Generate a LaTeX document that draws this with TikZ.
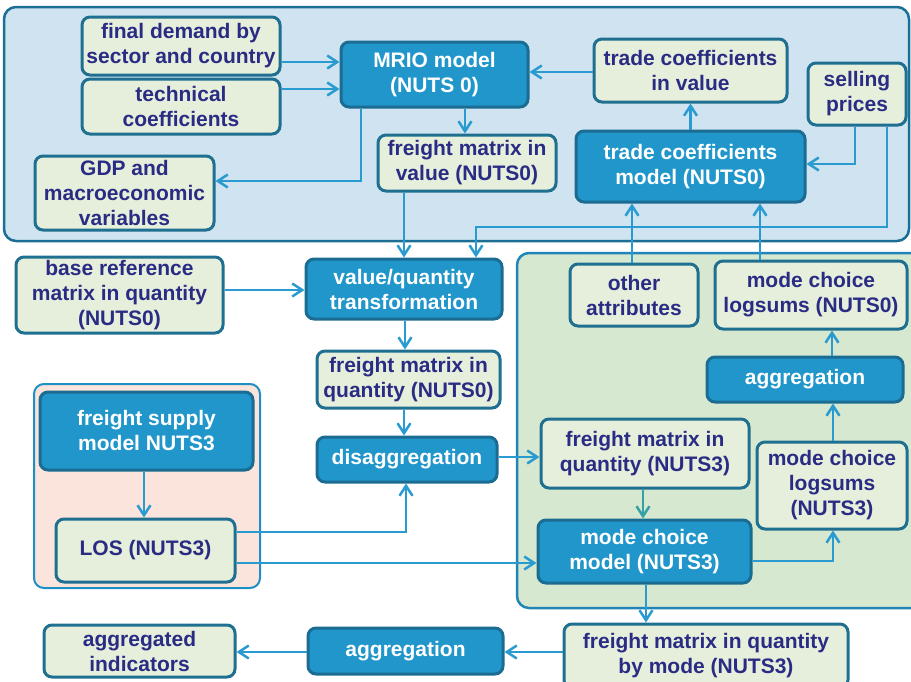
\documentclass[tikz,border=0pt]{standalone}
\usepackage{fontspec}
\setmainfont{Liberation Sans}
\usetikzlibrary{arrows.meta}

\definecolor{topfill}{HTML}{CFE3F0}
\definecolor{greenfill}{HTML}{D7E8D0}
\definecolor{pinkfill}{HTML}{FBE4DC}
\definecolor{topframe}{HTML}{1B6E94}
\definecolor{greenframe}{HTML}{2086B8}
\definecolor{pinkframe}{HTML}{1E8FC4}
\definecolor{lightfill}{HTML}{E6EFDC}
\definecolor{lightborder}{HTML}{1F6F90}
\definecolor{darkfill}{HTML}{2196CA}
\definecolor{darkborder}{HTML}{1B6C92}
\definecolor{navy}{HTML}{2A2C84}
\definecolor{flow}{HTML}{2A9BD0}
\definecolor{tealflow}{HTML}{35A0A8}

\tikzset{
  region/.style={line width=2.5pt, rounded corners=12pt},
  box/.style={rounded corners=8pt, line width=3pt, align=center, inner sep=0pt,
    font=\fontsize{21}{25}\selectfont\bfseries},
  lightbox/.style={box, draw=lightborder, fill=lightfill, text=navy},
  darkbox/.style={box, draw=darkborder, fill=darkfill, text=white},
  arr/.style={draw=flow, line width=2.5pt, -{Straight Barb[length=10pt,width=13pt]}},
}

\begin{document}
\begin{tikzpicture}[x=1pt,y=-1pt]
\useasboundingbox (0,0) rectangle (911,681);

% grouping regions
\draw[region, draw=topframe, fill=topfill] (4,7) rectangle (909,241);
\draw[region, draw=greenframe, fill=greenfill] (517,253) rectangle (925,608);
\draw[region, draw=pinkframe, line width=2pt, rounded corners=10pt, fill=pinkfill] (34,384) rectangle (260,588);

% upper block: input-output model
\node[lightbox, minimum width=198pt, minimum height=58pt] (fd) at (181,46) {final demand by\\sector and country};
\node[lightbox, minimum width=198pt, minimum height=55pt] (tc) at (181,106.5) {technical\\coefficients};
\node[lightbox, minimum width=179pt, minimum height=74pt] (gdp) at (124.5,193) {GDP and\\macroeconomic\\variables};
\node[darkbox, minimum width=187pt, minimum height=65pt] (mrio) at (434.5,74.5) {MRIO model\\(NUTS 0)};
\node[lightbox, minimum width=178pt, minimum height=56pt] (fmv) at (467,163) {freight matrix in\\value (NUTS0)};
\node[lightbox, minimum width=193pt, minimum height=63pt] (tcv) at (690.5,70.5) {trade coefficients\\in value};
\node[lightbox, minimum width=98pt, minimum height=62pt] (sp) at (857,94) {selling\\prices};
\node[darkbox, minimum width=229pt, minimum height=71pt] (tcm) at (690.5,166.5) {trade coefficients\\model (NUTS0)};

% middle column
\node[lightbox, minimum width=207pt, minimum height=76pt] (brm) at (119.5,295) {base reference\\matrix in quantity\\(NUTS0)};
\node[darkbox, minimum width=196pt, minimum height=60pt] (vqt) at (404,289) {value/quantity\\transformation};
\node[lightbox, minimum width=183pt, minimum height=57pt] (fmq0) at (408.5,379.5) {freight matrix in\\quantity (NUTS0)};
\node[darkbox, minimum width=180pt, minimum height=45pt] (dis) at (407,459.5) {disaggregation};

% supply block
\node[darkbox, minimum width=213pt, minimum height=78pt] (fsm) at (146.5,431) {freight supply\\model NUTS3};
\node[lightbox, minimum width=179pt, minimum height=63pt] (los) at (145.5,550.5) {LOS (NUTS3)};

% bottom row
\node[lightbox, minimum width=191pt, minimum height=52pt] (ai) at (139.5,651) {aggregated\\indicators};
\node[darkbox, minimum width=195pt, minimum height=46pt] (agb) at (405.5,651) {aggregation};
\node[lightbox, minimum width=284pt, minimum height=64pt] (fmm) at (706,656) {freight matrix in quantity\\by mode (NUTS3)};

% mode choice block
\node[lightbox, minimum width=128pt, minimum height=62pt] (oa) at (634,295) {other\\attributes};
\node[lightbox, minimum width=192pt, minimum height=68pt] (mcl0) at (811,295) {mode choice\\logsums (NUTS0)};
\node[darkbox, minimum width=196pt, minimum height=45pt] (agg) at (805,379.5) {aggregation};
\node[lightbox, minimum width=208pt, minimum height=69pt] (fmq3) at (645,453.5) {freight matrix in\\quantity (NUTS3)};
\node[lightbox, minimum width=150pt, minimum height=87pt] (mcl3) at (832,485.5) {mode choice\\logsums\\(NUTS3)};
\node[darkbox, minimum width=213pt, minimum height=63pt] (mcm) at (644.5,551.5) {mode choice\\model (NUTS3)};

% connectors
\draw[arr] (fd.east |- 0,62) -- (mrio.west |- 0,62);
\draw[arr] (tc.east |- 0,89) -- (mrio.west |- 0,89);
\draw[arr] (mrio.south -| 361,0) |- (gdp.east |- 0,181);
\draw[arr] (mrio.south -| 465,0) -- (fmv.north -| 465,0);
\draw[arr] (tcv.west |- 0,72) -- (mrio.east |- 0,72);
\draw[arr] (tcm.north) -- (tcv.south);
\draw[arr] (sp.south -| 855,0) |- (tcm.east |- 0,164);
\draw[arr] (sp.south -| 887,0) -- (887,227) -| (vqt.north -| 476,0);
\draw[arr] (fmv.south -| 404,0) -- (vqt.north -| 404,0);
\draw[arr] (oa.north -| 632,0) -- (tcm.south -| 632,0);
\draw[arr] (mcl0.north -| 760,0) -- (tcm.south -| 760,0);
\draw[arr] (brm.east |- 0,290) -- (vqt.west |- 0,290);
\draw[arr] (vqt.south -| 405,0) -- (fmq0.north -| 405,0);
\draw[arr] (fmq0.south -| 404,0) -- (dis.north -| 404,0);
\draw[arr] (dis.east |- 0,457) -- (fmq3.west |- 0,457);
\draw[arr] (fsm.south -| 144,0) -- (los.north -| 144,0);
\draw[arr] (los.east |- 0,532) -| (dis.south -| 406,0);
\draw[arr] (los.east |- 0,563) -- (mcm.west |- 0,563);
\draw[arr, draw=tealflow] (fmq3.south -| 643,0) -- (mcm.north -| 643,0);
\draw[arr] (mcm.east |- 0,561) -| (mcl3.south -| 833,0);
\draw[arr] (mcl3.north -| 833,0) -- (agg.south -| 833,0);
\draw[arr] (agg.north -| 832,0) -- (mcl0.south -| 832,0);
\draw[arr] (mcm.south -| 646,0) -- (fmm.north -| 646,0);
\draw[arr] (fmm.west |- 0,652) -- (agb.east |- 0,652);
\draw[arr] (agb.west |- 0,652) -- (ai.east |- 0,652);
\end{tikzpicture}
\end{document}
